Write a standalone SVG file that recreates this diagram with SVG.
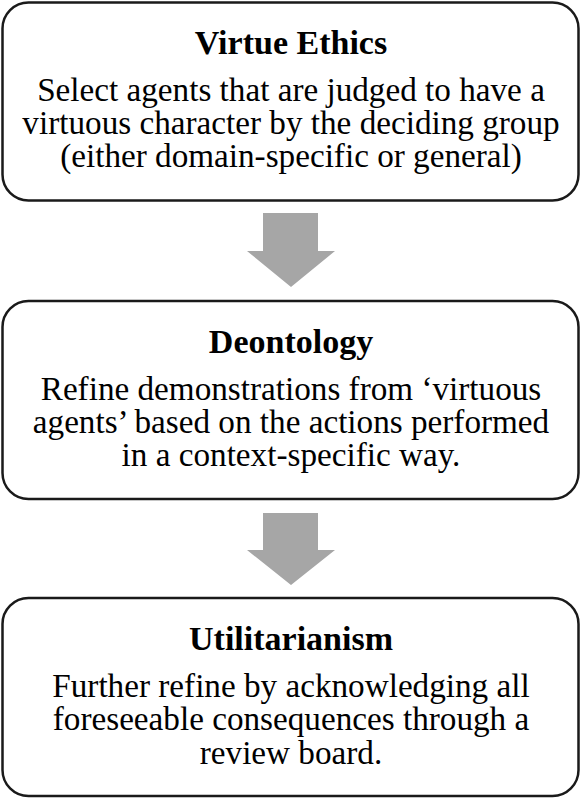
<svg xmlns="http://www.w3.org/2000/svg" width="582" height="800" viewBox="0 0 582 800">
<style>
.box{fill:#fff;stroke:#1a1a1a;stroke-width:2.5}
.t{font-family:"Liberation Serif","Times New Roman",serif;font-size:33.2px;fill:#000;text-anchor:middle}
.h{font-weight:bold;font-size:34px}
.arr{fill:#a6a6a6}
</style>
<rect width="582" height="800" fill="#fff"/>
<g id="virtue">
<rect class="box" x="2.5" y="2.5" width="576" height="198" rx="26"/>
<text class="t h" x="291" y="54">Virtue Ethics</text>
<text class="t" x="291" y="101">Select agents that are judged to have a</text>
<text class="t" x="291" y="134">virtuous character by the deciding group</text>
<text class="t" x="291" y="167">(either domain-specific or general)</text>
</g>
<g id="deontology">
<rect class="box" x="2.5" y="301" width="576" height="198" rx="26"/>
<text class="t h" x="291" y="353">Deontology</text>
<text class="t" x="291" y="400">Refine demonstrations from ‘virtuous</text>
<text class="t" x="291" y="433">agents’ based on the actions performed</text>
<text class="t" x="291" y="466">in a context-specific way.</text>
</g>
<g id="utilitarianism">
<rect class="box" x="2.5" y="598" width="576" height="198" rx="26"/>
<text class="t h" x="291" y="650">Utilitarianism</text>
<text class="t" x="291" y="697">Further refine by acknowledging all</text>
<text class="t" x="291" y="730">foreseeable consequences through a</text>
<text class="t" x="291" y="764">review board.</text>
</g>
<g id="connectors">
<polygon class="arr" points="263,213 318,213 318,251 335,251 291,287 247,251 263,251"/>
<polygon class="arr" points="263,513 318,513 318,550 335,550 291,585 247,550 263,550"/>
</g>
</svg>
